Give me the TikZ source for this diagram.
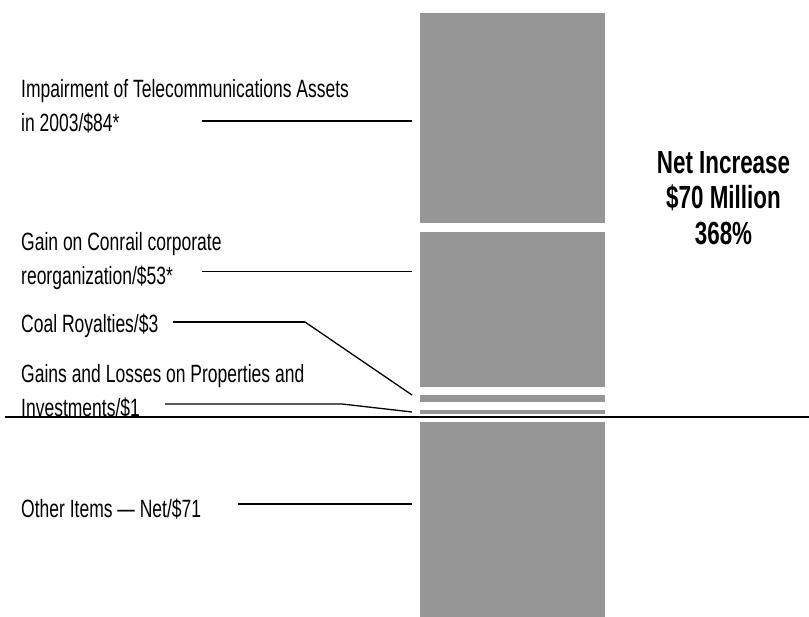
\documentclass[tikz,border=0pt]{standalone}
\usepackage{fontspec}
\setmainfont{Liberation Sans}[FakeStretch=0.7]
\usepackage{tikz}
\usetikzlibrary{positioning}
\definecolor{barGray}{RGB}{150,150,150}
\tikzstyle{bar} = [rectangle, fill=barGray, minimum width=185pt, inner sep=0pt, outer sep=0pt]
\tikzstyle{item} = [align=left, anchor=west, inner sep=0pt, font=\fontsize{25}{34}\selectfont]
\tikzstyle{total} = [align=center, inner sep=0pt, font=\fontsize{32}{35.5}\selectfont\bfseries]
\tikzstyle{leader} = [line width=1.3pt]

\begin{document}
\begin{tikzpicture}[x=1pt, y=-1pt]
\useasboundingbox (0,0) rectangle (809,617);

\node (impair) [bar, minimum height=210pt] at (512.5,118) {};
\node (conrail) [bar, minimum height=155pt, below=9pt of impair] {};
\node (coal) [bar, minimum height=7pt, below=8pt of conrail] {};
\node (gains) [bar, minimum height=4pt, below=8pt of coal] {};
\node (other) [bar, minimum height=195pt, below=8pt of gains] {};

\coordinate (zeroLeft) at (5,417.5);
\coordinate (zeroRight) at (809,417.5);
\draw [line width=2pt] (zeroLeft) -- (zeroRight);

\node (impairText) [item] at (21,106) {Impairment of Telecommunications Assets\\in 2003/\$84*};
\node (conrailText) [item] at (21,261) {Gain on Conrail corporate\\reorganization/\$53*};
\node (coalText) [item] at (21,326) {Coal Royalties/\$3};
\node (gainsText) [item] at (21,391) {Gains and Losses on Properties and\\Investments/\$1};
\node (otherText) [item] at (21,509) {Other Items — Net/\$71};

\node (net) [total] at (723.5,198) {Net Increase\\\$70 Million\\368\%};

\coordinate (impairStart) at (202,121);
\coordinate (conrailStart) at (202,271.5);
\coordinate (coalStart) at (173,322);
\coordinate (coalBend) at (305,322);
\coordinate (gainsStart) at (165,404);
\coordinate (gainsBend) at (342,404);
\coordinate (otherStart) at (238,504);

\draw [leader, shorten >=8pt] (impairStart) -- (impairStart -| impair.west);
\draw [leader, shorten >=8pt] (conrailStart) -- (conrailStart -| conrail.west);
\draw [leader, line width=2pt] (coalStart) -- (coalBend);
\draw [leader] (coalBend) -- ([xshift=-8pt]coal.north west);
\draw [leader] (gainsStart) -- (gainsBend) -- ([xshift=-8pt]gains.west);
\draw [leader, shorten >=8pt] (otherStart) -- (otherStart -| other.west);
\end{tikzpicture}
\end{document}
